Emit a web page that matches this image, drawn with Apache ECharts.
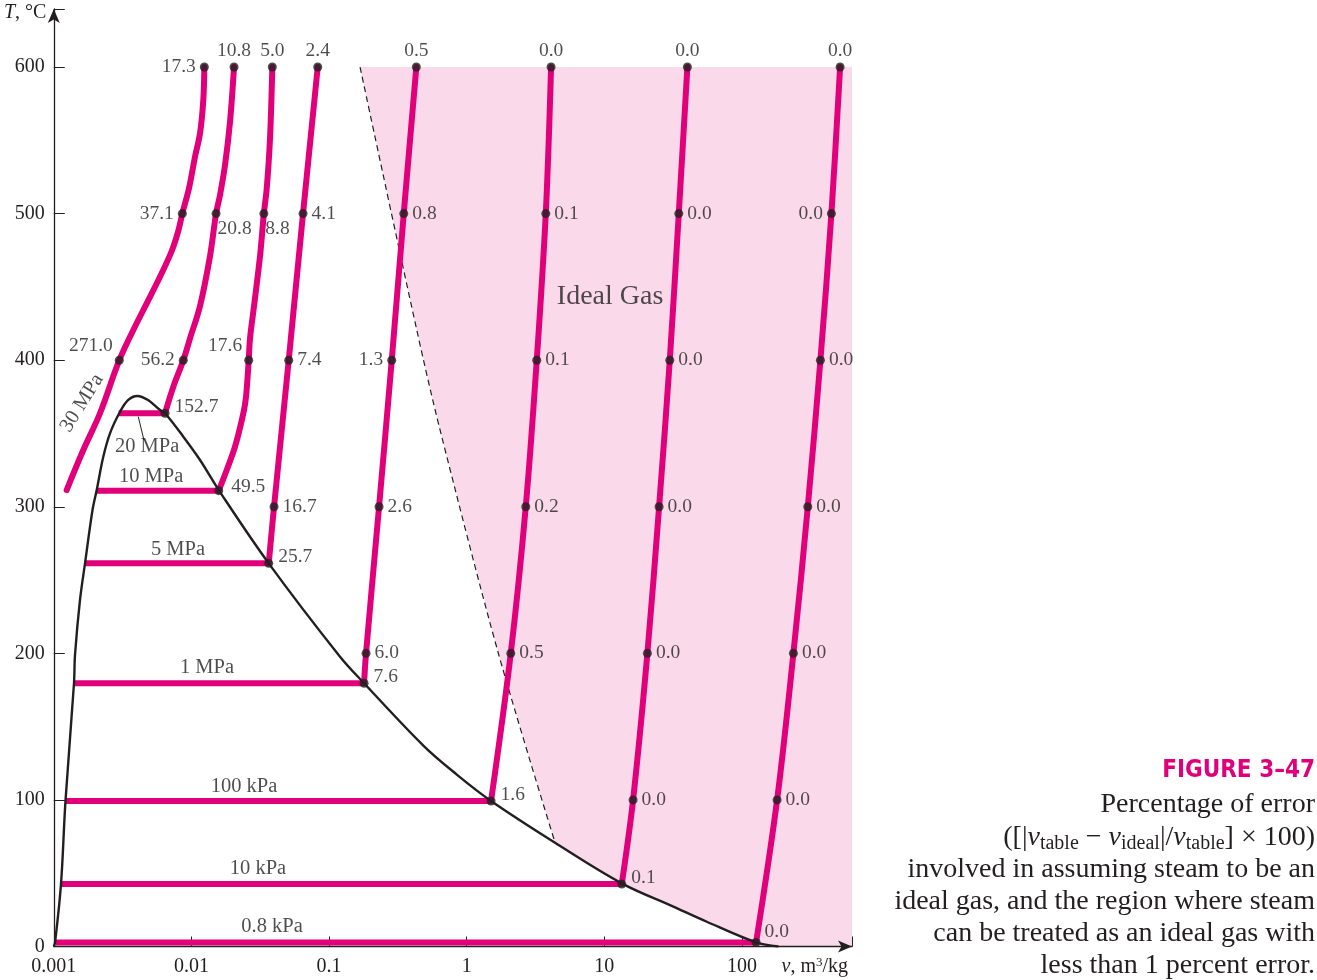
<!DOCTYPE html>
<html>
<head>
<meta charset="utf-8">
<title>Steam as an ideal gas - percentage of error</title>
<script src="https://cdn.jsdelivr.net/npm/echarts@6/dist/echarts.min.js"></script>
<style>
  html, body { margin: 0; padding: 0; background: #fff; }
  #chart { width: 1317px; height: 980px; }
</style>
</head>
<body>
<div id="chart"></div>
<script>
var MAGENTA = '#e2007a';
var PINK = '#fadaea';
var INK = '#231f20';
var SERIF = "'Liberation Serif', 'Times New Roman', serif";

// every point is [v in m3/kg, T in degC]

// saturation dome
var satDome = [
  [0.001, 0], [0.00102, 2.4], [0.001128, 42.6], [0.001216, 99.3], [0.001402, 179.6],
  [0.001426, 198.9], [0.00155, 236.4], [0.001686, 261.4], [0.001911, 297.8], [0.00205, 311.4],
  [0.002289, 334.1], [0.002561, 350.1], [0.003028, 364.8], [0.003461, 372.8], [0.004045, 375.6],
  [0.004837, 372.8], [0.005912, 366], [0.00643, 363.8], [0.008732, 347.8], [0.01155, 331.9],
  [0.01579, 311.4], [0.03645, 261.4], [0.1202, 197.7], [0.1797, 179.6], [0.4844, 137.1],
  [0.8474, 117.3], [1.504, 99.3], [4.389, 70.8], [13.4, 43.1], [31.78, 27.2], [55.57, 16.9],
  [126.8, 2.8], [184.2, 0]
];

// dashed limit of the ideal-gas region (< 1 % error)
var idealLimit = [[0.168, 600], [0.4339, 420.6], [0.6408, 352.4], [1.7, 200], [4.389, 70.8]];

// shaded ideal-gas region
var idealRegion = [
  [0.168, 600], [631, 600], [631, 0], [184.2, 0], [126.8, 2.8], [55.57, 16.9], [31.78, 27.2],
  [13.4, 43.1], [4.389, 70.8], [1.7, 200], [0.6408, 352.4], [0.4339, 420.6]
];

// isobars: curve, saturation (flat) part, marked points with % error
var curve30MPa = [
  [0.00124, 311.4], [0.001638, 338.7], [0.002166, 363.8], [0.002992, 400], [0.003784, 420.6],
  [0.004733, 438.8], [0.005912, 456.9], [0.007193, 474.5], [0.00803, 488.2], [0.00859, 500],
  [0.009654, 518.3], [0.01062, 538.8], [0.01155, 554.8], [0.0122, 577.5], [0.01241, 600]
];
var dots30MPa = [[0.01241, 600, '17.3'], [0.00859, 500, '37.1'], [0.002992, 400, '271.0']];

var curve20MPa = [
  [0.00643, 363.8], [0.007387, 381.9], [0.008732, 400], [0.009768, 414.9], [0.01155, 437],
  [0.01365, 471], [0.0151, 500], [0.01614, 512.7], [0.01755, 533.2], [0.01908, 562.7], [0.0204, 600]
];
var flat20MPa = [[0.00296, 363.8], [0.00643, 363.8]];
var dots20MPa = [[0.0204, 600, '10.8'], [0.0151, 500, '20.8'], [0.008732, 400, '56.2'], [0.00643, 363.8, '152.7']];

var curve10MPa = [
  [0.01579, 311], [0.01805, 325.1], [0.02074, 341], [0.02384, 363.8], [0.02493, 375.1],
  [0.02608, 400], [0.02666, 414.9], [0.02851, 437], [0.03151, 471], [0.0336, 500],
  [0.03526, 517.3], [0.03725, 551.4], [0.03871, 600]
];
var flat10MPa = [[0.00205, 311], [0.01579, 311]];
var dots10MPa = [[0.03871, 600, '5.0'], [0.0336, 500, '8.8'], [0.02608, 400, '17.6'], [0.01579, 311, '49.5']];

var curve5MPa = [[0.03645, 261.4], [0.03984, 300], [0.05094, 400], [0.06471, 500], [0.08277, 600]];
var flat5MPa = [[0.001686, 261.4], [0.03645, 261.4]];
var dots5MPa = [[0.08277, 600, '2.4'], [0.06471, 500, '4.1'], [0.05094, 400, '7.4'], [0.03984, 300, '16.7'], [0.03645, 261.4, '25.7']];

var curve1MPa = [[0.1797, 179.6], [0.1857, 200], [0.2309, 300], [0.2855, 400], [0.3491, 500], [0.4309, 600]];
var flat1MPa = [[0.001402, 179.6], [0.1797, 179.6]];
var dots1MPa = [[0.4309, 600, '0.5'], [0.3491, 500, '0.8'], [0.2855, 400, '1.3'], [0.2309, 300, '2.6'], [0.1857, 200, '6.0'], [0.1797, 179.6, '7.6']];

var curve100kPa = [[1.504, 99.3], [2.092, 200], [2.688, 300], [3.231, 400], [3.757, 500], [4.106, 600]];
var flat100kPa = [[0.001216, 99.3], [1.504, 99.3]];
var dots100kPa = [[4.106, 600, '0.0'], [3.757, 500, '0.1'], [3.231, 400, '0.1'], [2.688, 300, '0.2'], [2.092, 200, '0.5'], [1.504, 99.3, '1.6']];

var curve10kPa = [[13.4, 42.6], [16.19, 100], [20.57, 200], [25.02, 300], [29.92, 400], [34.78, 500], [40.17, 600]];
var flat10kPa = [[0.001128, 42.6], [13.4, 42.6]];
var dots10kPa = [[40.17, 600, '0.0'], [34.78, 500, '0.0'], [29.92, 400, '0.0'], [25.02, 300, '0.0'], [20.57, 200, '0.0'], [16.19, 100, '0.0'], [13.4, 42.6, '0.1']];

var curve08kPa = [[126.8, 2.8], [180.2, 100], [236.7, 200], [301.2, 300], [371.9, 400], [447.1, 500], [517.2, 600]];
var flat08kPa = [[0.001037, 2.8], [126.8, 2.8]];
var dots08kPa = [[517.2, 600, '0.0'], [447.1, 500, '0.0'], [371.9, 400, '0.0'], [301.2, 300, '0.0'], [236.7, 200, '0.0'], [180.2, 100, '0.0'], [126.8, 2.8, '0.0']];

// isobar names [text, v, T]
var isobarNames = [
  ['20 MPa', 0.00476, 340.8], ['10 MPa', 0.00509, 320.3], ['5 MPa', 0.00799, 270.5],
  ['1 MPa', 0.01298, 190.2], ['100 kPa', 0.02412, 108.8], ['10 kPa', 0.03048, 52.9],
  ['0.8 kPa', 0.03853, 13.3]
];
var name30MPa = ['30 MPa', 0.001603, 370.8];
var leader20MPa = [[0.00411, 361.4], [0.00452, 345.5]];
var regionName = ['Ideal Gas', 11.02, 443.1];

var xTicks = [0.001, 0.01, 0.1, 1, 10, 100];

// label placement for the marked points (same order as the dots arrays)
var place30MPa = ['l', 'l', 'tl'];
var place20MPa = ['t', 'br', 'l', 'rt'];
var place10MPa = ['t', 'br', 'tl', 'rt2'];
var place5MPa = ['t', 'r', 'r', 'r', 'rt'];
var place1MPa = ['t', 'r', 'l', 'r', 'r', 'rt'];
var place100kPa = ['t', 'r', 'r', 'r', 'r', 'rt'];
var place10kPa = ['t', 'r', 'r', 'r', 'r', 'r', 'rt'];
var place08kPa = ['t', 'l', 'r', 'r', 'r', 'r', 'tr'];

function labelFor(code, text) {
  var l = { show: true, formatter: text, color: INK, fontFamily: SERIF, fontSize: 19.5 };
  if (code === 'l') { l.position = 'left'; l.distance = 4; }
  else if (code === 'r') { l.position = 'right'; l.distance = 4; }
  else if (code === 't') { l.position = 'top'; l.distance = 2; }
  else if (code === 'tl') { l.position = 'left'; l.distance = 2; l.offset = [0, -14]; }
  else if (code === 'br') { l.position = 'right'; l.distance = -3; l.offset = [0, 15]; }
  else if (code === 'rt') { l.position = 'right'; l.distance = 5; l.offset = [0, -6]; }
  else if (code === 'rt2') { l.position = 'right'; l.distance = 8; l.offset = [0, -4]; }
  else if (code === 'tr') { l.position = 'right'; l.distance = 4; l.offset = [0, -11]; }
  return l;
}

var isobars = [
  [curve30MPa, null, dots30MPa, place30MPa],
  [curve20MPa, flat20MPa, dots20MPa, place20MPa],
  [curve10MPa, flat10MPa, dots10MPa, place10MPa],
  [curve5MPa, flat5MPa, dots5MPa, place5MPa],
  [curve1MPa, flat1MPa, dots1MPa, place1MPa],
  [curve100kPa, flat100kPa, dots100kPa, place100kPa],
  [curve10kPa, flat10kPa, dots10kPa, place10kPa],
  [curve08kPa, flat08kPa, dots08kPa, place08kPa]
];

var series = [];

series.push({
  type: 'custom',
  silent: true,
  z: 0,
  data: [[1, 300]],
  renderItem: function (params, api) {
    return {
      type: 'polygon',
      shape: { points: idealRegion.map(function (p) { return api.coord(p); }) },
      style: { fill: PINK }
    };
  }
});

series.push({
  type: 'line', data: idealLimit, smooth: 0.3, showSymbol: false, silent: true, z: 1,
  lineStyle: { color: INK, width: 1.2, type: [6, 4] }
});

isobars.forEach(function (iso) {
  series.push({
    type: 'line', data: iso[0], smooth: 0.35, showSymbol: false, silent: true, z: 2,
    lineStyle: { color: MAGENTA, width: 6, cap: 'round' }
  });
  if (iso[1]) {
    series.push({
      type: 'line', data: iso[1], showSymbol: false, silent: true, z: 2,
      lineStyle: { color: MAGENTA, width: 6 }
    });
  }
});

series.push({
  type: 'line', data: satDome, smooth: 0.35, showSymbol: false, silent: true, z: 3,
  lineStyle: { color: INK, width: 2.4 }
});

series.push({
  type: 'line', data: leader20MPa, showSymbol: false, silent: true, z: 3,
  lineStyle: { color: INK, width: 1 }
});

isobars.forEach(function (iso) {
  series.push({
    type: 'scatter', symbolSize: 9, silent: true, z: 5,
    itemStyle: { color: INK },
    data: iso[2].map(function (d, i) {
      return { value: [d[0], d[1]], label: labelFor(iso[3][i], d[2]) };
    })
  });
});

var names = isobarNames.map(function (n) {
  return { value: [n[1], n[2]], label: { formatter: n[0] } };
});
names.push({ value: [name30MPa[1], name30MPa[2]], label: { formatter: name30MPa[0], rotate: 58 } });
names.push({ value: [regionName[1], regionName[2]], label: { formatter: regionName[0], fontSize: 28 } });

series.push({
  type: 'scatter', symbolSize: 0, silent: true, z: 6,
  label: { show: true, position: 'inside', color: INK, fontFamily: SERIF, fontSize: 20.5 },
  data: names
});

function logLabel(value) {
  var e = Math.round(Math.log10(value));
  var hit = xTicks.some(function (t) { return Math.abs(Math.log10(t) - Math.log10(value)) < 1e-6; });
  if (!hit) return '';
  return e < 0 ? value.toFixed(-e) : String(Math.round(value));
}

var captionLines = [
  'Percentage of error',
  '([|{i|v}{sub|table} − {i|v}{sub|ideal}|/{i|v}{sub|table}] × 100)',
  'involved in assuming steam to be an',
  'ideal gas, and the region where steam',
  'can be treated as an ideal gas with',
  'less than 1 percent error.'
];

var captionRich = {
  i: { fontFamily: SERIF, fontStyle: 'italic', fontSize: 28, fill: INK },
  sub: { fontFamily: SERIF, fontSize: 20, padding: [13, 0, 0, 0], fill: INK }
};

var graphic = [
  {
    type: 'text', x: 4, y: 13,
    style: {
      text: '{i|T}, °C', verticalAlign: 'middle', fill: INK, font: '20px ' + SERIF,
      rich: { i: { fontFamily: SERIF, fontStyle: 'italic', fontSize: 20 } }
    }
  },
  {
    type: 'text', x: 848, y: 967,
    style: {
      text: '{i|v}, m{sup|3}/kg', align: 'right', verticalAlign: 'middle', fill: INK, font: '20px ' + SERIF,
      rich: {
        i: { fontFamily: SERIF, fontStyle: 'italic', fontSize: 20 },
        sup: { fontFamily: SERIF, fontSize: 13, padding: [0, 0, 9, 0] }
      }
    }
  },
  {
    type: 'text', x: 1315, y: 771,
    style: {
      text: 'FIGURE 3–47', align: 'right', verticalAlign: 'middle', fill: MAGENTA,
      font: "bold 24px 'Liberation Sans Narrow', 'DejaVu Sans Condensed', 'Roboto', sans-serif"
    }
  }
];
captionLines.forEach(function (t, i) {
  graphic.push({
    type: 'text', x: 1315, y: 805 + i * 32.2,
    style: {
      text: t, align: 'right', verticalAlign: 'middle', fill: INK,
      font: '28px ' + SERIF, rich: captionRich
    }
  });
});

var chart = echarts.init(document.getElementById('chart'));
chart.setOption({
  animation: false,
  backgroundColor: '#fff',
  grid: { left: 53.8, right: 465, top: 9, bottom: 33.5, containLabel: false, outerBoundsMode: 'none' },
  xAxis: {
    type: 'log', logBase: 10, min: 0.001, max: 631,
    axisLine: { lineStyle: { color: INK, width: 1.3 }, symbol: ['none', 'arrow'], symbolSize: [9, 14] },
    axisTick: { inside: true, length: 10, lineStyle: { color: INK, width: 1 } },
    axisLabel: { formatter: logLabel, fontFamily: SERIF, fontSize: 20, color: INK, margin: 10 },
    splitLine: { show: false },
    minorTick: { show: false }
  },
  yAxis: {
    type: 'value', min: 0, max: 639.6, interval: 100,
    axisLine: { lineStyle: { color: INK, width: 1.3 }, symbol: ['none', 'arrow'], symbolSize: [9, 14] },
    axisTick: { inside: true, length: 11, lineStyle: { color: INK, width: 1 } },
    axisLabel: {
      formatter: function (v) { return v % 100 === 0 ? String(v) : ''; },
      fontFamily: SERIF, fontSize: 20, color: INK, margin: 9
    },
    splitLine: { show: false }
  },
  series: series,
  graphic: graphic
});
</script>
</body>
</html>
